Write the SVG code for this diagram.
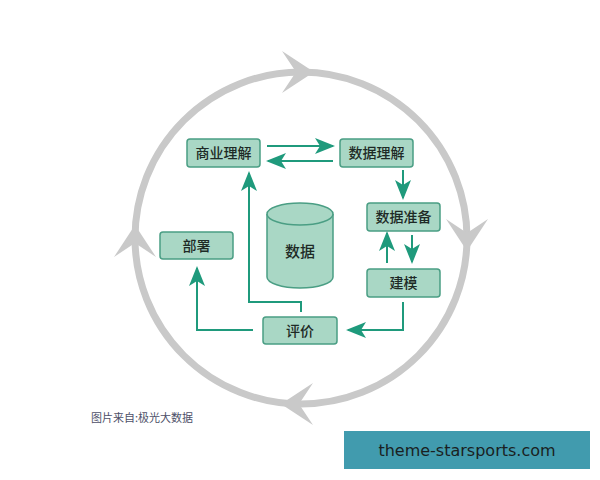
<svg xmlns="http://www.w3.org/2000/svg" width="600" height="480" viewBox="0 0 600 480">
<defs>
<style>
.node rect{fill:#a9d7c5;stroke:#4a9e84;stroke-width:1.5}
.lbl{font-family:"Noto Sans CJK SC","Noto Sans",sans-serif;font-size:14px;font-weight:500;fill:#1e2a26;text-anchor:middle}
.conn path{fill:none;stroke:#1f9a7c;stroke-width:2}
.ring{fill:none;stroke:#c9c9c9;stroke-width:7}
.rh{fill:#c9c9c9}
</style>
<marker id="ah" viewBox="0 0 20 16" refX="18" refY="8" markerWidth="20" markerHeight="16" markerUnits="userSpaceOnUse" orient="auto">
<path d="M0,0 L20,8 L0,16 L5,8 Z" fill="#1f9a7c"/>
</marker>
<path id="bigHead" d="M15,0 L-17,-21 L-3,0 L-17,21 Z"/>
</defs>
<rect width="600" height="480" fill="#ffffff"/>
<g id="cycle">
<circle class="ring" cx="301" cy="238" r="166"/>
<use href="#bigHead" class="rh" transform="translate(299,72)"/>
<use href="#bigHead" class="rh" transform="translate(467,236) rotate(90)"/>
<use href="#bigHead" class="rh" transform="translate(296,404) rotate(180)"/>
<use href="#bigHead" class="rh" transform="translate(135,240) rotate(-90)"/>
</g>
<g class="conn" id="connectors">
<path d="M267,146 H333" marker-end="url(#ah)"/>
<path d="M333,161 H268" marker-end="url(#ah)"/>
<path d="M403,170 V198" marker-end="url(#ah)"/>
<path d="M412,235 V262" marker-end="url(#ah)"/>
<path d="M387,263 V233" marker-end="url(#ah)"/>
<path d="M403,302 V330 H348" marker-end="url(#ah)"/>
<path d="M301,312 V302 H249 V173" marker-end="url(#ah)"/>
<path d="M253,330 H197 V268" marker-end="url(#ah)"/>
</g>
<g class="node" id="business"><rect x="187" y="139" width="73" height="28" rx="3"/><text class="lbl" x="223.5" y="158">商业理解</text></g>
<g class="node" id="dataUnderstanding"><rect x="340" y="139" width="73" height="28" rx="3"/><text class="lbl" x="376.5" y="158">数据理解</text></g>
<g class="node" id="dataPrep"><rect x="367" y="203" width="73" height="28" rx="3"/><text class="lbl" x="403.5" y="222">数据准备</text></g>
<g class="node" id="modeling"><rect x="367" y="269" width="73" height="28" rx="3"/><text class="lbl" x="403.5" y="288">建模</text></g>
<g class="node" id="deploy"><rect x="160" y="232" width="73" height="27" rx="3"/><text class="lbl" x="196.5" y="250.5">部署</text></g>
<g class="node" id="evaluate"><rect x="263" y="317" width="74" height="27" rx="3"/><text class="lbl" x="300" y="335.5">评价</text></g>
<g id="data">
<path d="M267,214 V277 A33,11 0 0 0 333,277 V214" fill="#a9d7c5" stroke="#4a9e84" stroke-width="1.5"/>
<ellipse cx="300" cy="214" rx="33" ry="11" fill="#a9d7c5" stroke="#4a9e84" stroke-width="1.5"/>
<text class="lbl" x="300" y="257" style="font-size:15px">数据</text>
</g>
<text x="91" y="422" style="font-family:'Noto Sans CJK SC','Noto Sans',sans-serif;font-size:11px;fill:#4d5068">图片来自:极光大数据</text>
<g id="watermark">
<rect x="344" y="431" width="246" height="38" fill="#419bae"/>
<text x="467" y="456" text-anchor="middle" style="font-family:'DejaVu Sans',sans-serif;font-size:16px;fill:#1a1f22">theme-starsports.com</text>
</g>
</svg>
